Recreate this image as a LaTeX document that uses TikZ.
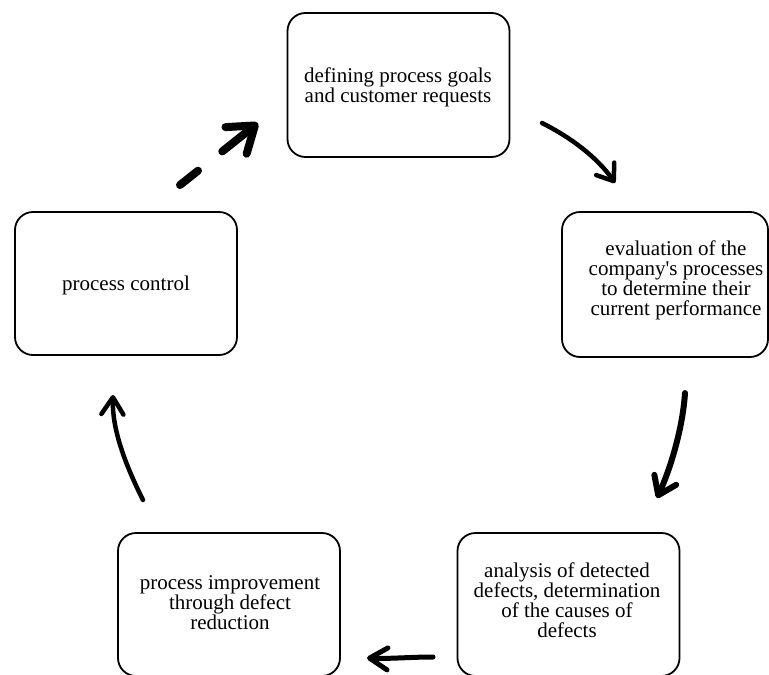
\documentclass[tikz,border=0pt]{standalone}
\usepackage{fontspec}
\setmainfont{Liberation Serif}
\usetikzlibrary{arrows.meta}
\begin{document}
\begin{tikzpicture}[x=1pt,y=-1pt,
  stage/.style={draw, line width=1.8pt, rounded corners=18pt, minimum width=222pt, minimum height=144pt, inner sep=0pt},
  txt/.style={align=center, font=\fontsize{21}{20}\selectfont, inner sep=0pt},
  flow/.style={line cap=round, line join=round},
]
\useasboundingbox (0,0) rectangle (769,675);
\clip (0,0) rectangle (769,675);

% boxes
\node[stage] (goals) at (398.5,85) {};
\node[stage, minimum width=206pt, minimum height=145pt] (eval) at (665,284.5) {};
\node[stage, minimum height=143pt] (analysis) at (568.5,604.5) {};
\node[stage, minimum height=143pt] (improve) at (229,604.5) {};
\node[stage, minimum height=143pt] (control) at (126,283.5) {};

% texts
\node[txt] (goalsT) at (398,87) {defining process goals\\and customer requests};
\node[txt] (evalT) at (676,280) {evaluation of the\\company\textquotesingle s processes\\to determine their\\current performance};
\node[txt] (analysisT) at (567,600) {analysis of detected\\defects, determination\\of the causes of\\defects};
\node[txt] (improveT) at (230,603) {process improvement\\through defect\\reduction};
\node[txt] (controlT) at (126,285) {process control};

% connector end points
\coordinate (a1) at (180,185);
\coordinate (a2) at (258,123);
\coordinate (b1) at (542,123);
\coordinate (b2) at (615,183);
\coordinate (c1) at (685,393);
\coordinate (c2) at (657,498);
\coordinate (d1) at (433,657);
\coordinate (d2) at (367,658);
\coordinate (e1) at (143,500);
\coordinate (e2) at (113,395);

% arrows
\draw[flow, line width=8pt, dash pattern=on 23pt off 31pt on 200pt,
  -{Straight Barb[length=24pt,width=34pt,line cap=round,line join=round]}] (a1) -- (a2);
\draw[flow, line width=4.5pt,
  -{Straight Barb[length=15pt,width=22pt,line cap=round,line join=round]}]
  (b1) .. controls (570,137) and (597,157) .. (b2);
\draw[flow, line width=6pt,
  -{Straight Barb[length=17pt,width=24pt,line cap=round,line join=round]}]
  (c1) .. controls (683,425) and (672,465) .. (c2);
\draw[flow, line width=5pt,
  -{Straight Barb[length=18pt,width=22pt,line cap=round,line join=round]}]
  (d1) .. controls (410,657) and (390,659) .. (d2);
\draw[flow, line width=4.5pt,
  -{Straight Barb[length=17pt,width=22pt,line cap=round,line join=round]}]
  (e1) .. controls (124,462) and (112,428) .. (e2);
\end{tikzpicture}
\end{document}
